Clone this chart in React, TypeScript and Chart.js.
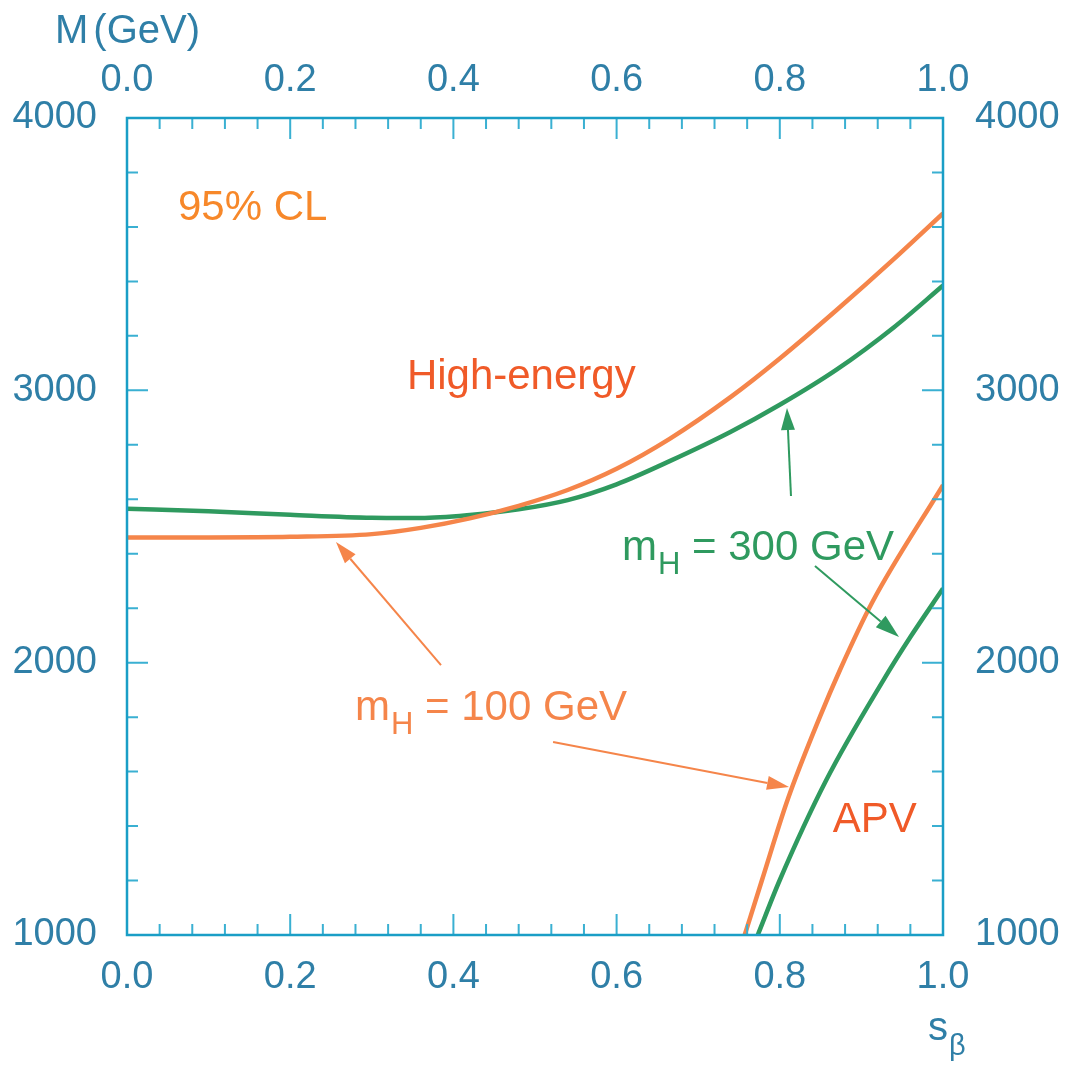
import React, { useEffect, useRef } from "react";
import { Chart, registerables } from "chart.js";

Chart.register(...registerables);

const FONT = "'Liberation Sans', Arial, Helvetica, sans-serif";

// s_beta values and bound on M (GeV) — high-energy bounds
const sHigh = [0, 0.1, 0.2, 0.3, 0.36, 0.42, 0.48, 0.54, 0.6, 0.665, 0.74, 0.8, 0.87, 0.94, 1.0];
const mHigh100 = [2460, 2460, 2462, 2472, 2495, 2530, 2576, 2634, 2712, 2822, 2976, 3117, 3296, 3483, 3650];
const mHigh300 = [2565, 2556, 2543, 2532, 2531, 2542, 2563, 2597, 2655, 2740, 2848, 2947, 3077, 3232, 3385];

// APV bounds
const sApv100 = [0.757, 0.778, 0.81, 0.849, 0.874, 0.913, 1.0];
const mApv100 = [1000, 1200, 1500, 1800, 1975, 2220, 2652];
const sApv300 = [0.773, 0.8, 0.857, 0.927, 0.96, 1.0];
const mApv300 = [1000, 1202, 1569, 1936, 2094, 2272];

const xTickStep = 0.2;
const yTickStep = 1000;

const ORANGE = "#f5854a";
const GREEN = "#2f9a5f";
const RED = "#f05a28";
const CL_ORANGE = "#f7882a";
const AXIS = "#1a9ec6";
const TICK = "#3ab0d2";
const LABEL = "#2f7fa7";

const zip = (xs: number[], ys: number[]) => xs.map((x, i) => ({ x, y: ys[i] }));

function drawArrow(
  ctx: CanvasRenderingContext2D,
  x1: number, y1: number, x2: number, y2: number,
  color: string, lw: number, headLen: number, headW: number
) {
  const ang = Math.atan2(y2 - y1, x2 - x1);
  const bx = x2 - headLen * Math.cos(ang);
  const by = y2 - headLen * Math.sin(ang);
  ctx.save();
  ctx.strokeStyle = color;
  ctx.fillStyle = color;
  ctx.lineWidth = lw;
  ctx.beginPath();
  ctx.moveTo(x1, y1);
  ctx.lineTo(bx, by);
  ctx.stroke();
  const px = -Math.sin(ang) * headW / 2;
  const py = Math.cos(ang) * headW / 2;
  ctx.beginPath();
  ctx.moveTo(x2, y2);
  ctx.lineTo(bx + px, by + py);
  ctx.lineTo(bx - px, by - py);
  ctx.closePath();
  ctx.fill();
  ctx.restore();
}

const decorPlugin = {
  id: "decor",
  afterDraw(chart: any) {
    const ctx: CanvasRenderingContext2D = chart.ctx;
    const { left, right, top, bottom } = chart.chartArea;
    const xs = chart.scales.x;
    const ys = chart.scales.y;
    const X = (v: number) => xs.getPixelForValue(v);
    const Y = (v: number) => ys.getPixelForValue(v);

    ctx.save();
    // inward ticks
    ctx.strokeStyle = TICK;
    ctx.lineWidth = 2;
    for (let i = 1; i < 25; i++) {
      const v = i * 0.04;
      const major = i % 5 === 0;
      const len = major ? 21 : 11;
      const px = X(v);
      ctx.beginPath();
      ctx.moveTo(px, bottom);
      ctx.lineTo(px, bottom - len);
      ctx.moveTo(px, top);
      ctx.lineTo(px, top + len);
      ctx.stroke();
    }
    for (let i = 1; i < 15; i++) {
      const v = 1000 + i * 200;
      const major = i % 5 === 0;
      const len = major ? 21 : 11;
      const py = Y(v);
      ctx.beginPath();
      ctx.moveTo(left, py);
      ctx.lineTo(left + len, py);
      ctx.moveTo(right, py);
      ctx.lineTo(right - len, py);
      ctx.stroke();
    }
    // frame
    ctx.strokeStyle = AXIS;
    ctx.lineWidth = 2.5;
    ctx.strokeRect(left, top, right - left, bottom - top);

    // arrows
    drawArrow(ctx, X(0.3848), Y(1991), X(0.2561), Y(2443), ORANGE, 2, 22, 14);
    drawArrow(ctx, X(0.5221), Y(1709), X(0.8113), Y(1543), ORANGE, 2, 22, 14);
    drawArrow(ctx, X(0.8137), Y(2612), X(0.8088), Y(2935), GREEN, 2, 22, 14);
    drawArrow(ctx, X(0.8431), Y(2355), X(0.9461), Y(2094), GREEN, 2, 24, 15);

    // texts
    ctx.textBaseline = "alphabetic";
    ctx.textAlign = "left";
    ctx.font = `42px ${FONT}`;
    ctx.fillStyle = CL_ORANGE;
    ctx.fillText("95% CL", X(0.0625), Y(3625));
    ctx.fillStyle = RED;
    ctx.fillText("High-energy", X(0.343), Y(3005));
    ctx.fillText("APV", X(0.865), Y(1378));

    const subLabel = (x: number, y: number, rest: string, color: string) => {
      ctx.fillStyle = color;
      ctx.font = `42px ${FONT}`;
      ctx.fillText("m", x, y);
      let cx = x + ctx.measureText("m").width + 1;
      ctx.font = `31px ${FONT}`;
      ctx.fillText("H", cx, y + 14);
      cx += ctx.measureText("H").width;
      ctx.font = `42px ${FONT}`;
      ctx.fillText(rest, cx, y);
    };
    subLabel(X(0.6066), Y(2377), " = 300 GeV", GREEN);
    subLabel(X(0.2794), Y(1789), " = 100 GeV", ORANGE);

    // axis titles
    ctx.fillStyle = LABEL;
    ctx.font = `40px ${FONT}`;
    ctx.fillText("M", left - 72, top - 75);
    const mw = ctx.measureText("M").width;
    ctx.fillText("(GeV)", left - 72 + mw + 5, top - 75);

    ctx.font = `40px ${FONT}`;
    ctx.fillText("s", right - 15, bottom + 105);
    const sw = ctx.measureText("s").width;
    ctx.font = `29px ${FONT}`;
    ctx.fillText("\u03b2", right - 15 + sw + 1, bottom + 120);
    ctx.restore();
  },
};

const tickFont = { family: FONT, size: 38 };

function xAxis(position: string, padding: number, h: number) {
  return {
    type: "linear",
    axis: "x",
    position,
    min: 0,
    max: 1,
    ticks: {
      stepSize: xTickStep,
      callback: (v: any) => Number(v).toFixed(1),
      font: tickFont,
      color: LABEL,
      padding,
      autoSkip: false,
      maxRotation: 0,
      minRotation: 0,
    },
    grid: { display: false, drawTicks: false },
    border: { display: false },
    afterFit: (s: any) => {
      s.height = h;
    },
  };
}

function yAxis(position: string, padding: number, w: number) {
  return {
    type: "linear",
    axis: "y",
    position,
    min: 1000,
    max: 4000,
    ticks: {
      stepSize: yTickStep,
      callback: (v: any) => String(v),
      font: tickFont,
      color: LABEL,
      padding,
      autoSkip: false,
    },
    grid: { display: false, drawTicks: false },
    border: { display: false },
    afterFit: (s: any) => {
      s.width = w;
    },
  };
}

export default function App() {
  const ref = useRef<HTMLCanvasElement>(null);
  useEffect(() => {
    const canvas = ref.current;
    if (!canvas) return;
    const line = (data: any[], color: string) => ({
      data,
      showLine: true,
      borderColor: color,
      backgroundColor: color,
      borderWidth: 4.5,
      pointRadius: 0,
      cubicInterpolationMode: "monotone",
      fill: false,
    });
    const chart = new Chart(canvas, {
      type: "scatter",
      data: {
        datasets: [
          line(zip(sHigh, mHigh100), ORANGE),
          line(zip(sHigh, mHigh300), GREEN),
          line(zip(sApv100, mApv100), ORANGE),
          line(zip(sApv300, mApv300), GREEN),
        ] as any,
      },
      options: {
        responsive: false,
        animation: false,
        devicePixelRatio: 1,
        layout: { padding: 0 },
        plugins: {
          legend: { display: false },
          tooltip: { enabled: false },
        },
        scales: {
          x: xAxis("bottom", 20, 131),
          x2: xAxis("top", 15, 118),
          y: yAxis("left", 30, 127),
          y2: yAxis("right", 32, 125),
        } as any,
      },
      plugins: [decorPlugin],
    });
    return () => chart.destroy();
  }, []);
  return (
    <div style={{ position: "absolute", left: 0, top: 0, width: 1068, height: 1066, background: "#fff" }}>
      <canvas ref={ref} width={1068} height={1066} style={{ display: "block", width: 1068, height: 1066 }} />
    </div>
  );
}
